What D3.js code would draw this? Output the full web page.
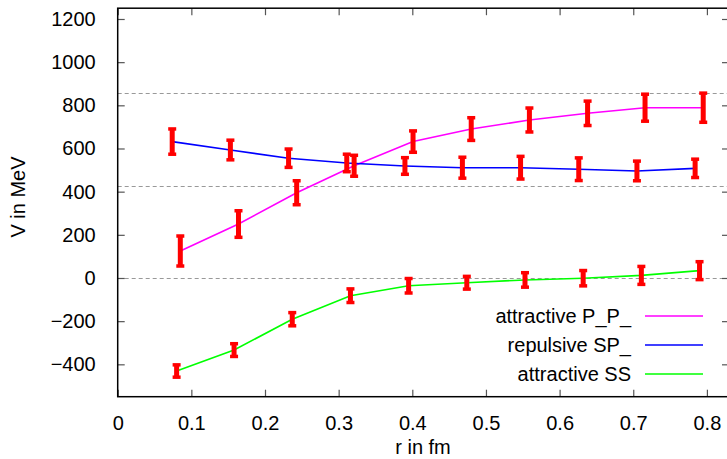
<!DOCTYPE html>
<html>
<head>
<meta charset="utf-8">
<script src="https://cdn.jsdelivr.net/npm/d3@7"></script>
<style>
  body { margin: 0; background: #fff; }
  text { font-family: "Liberation Sans", Arial, sans-serif; font-size: 20px; fill: #000; }
</style>
</head>
<body>
<svg id="svg" width="727" height="459"></svg>
<script>
// r in fm, V in MeV, error in MeV
const rPP = [0.085, 0.164, 0.243, 0.321, 0.401, 0.480, 0.559, 0.638, 0.716, 0.795]
const vPP = [125, 250, 395, 520, 632, 690, 732, 763, 789, 789]
const ePP = [73, 65, 59, 52, 53, 56, 59, 60, 66, 71]

const rSP = [0.074, 0.153, 0.232, 0.311, 0.390, 0.468, 0.547, 0.626, 0.705, 0.784]
const vSP = [632, 593, 555, 533, 519, 511, 511, 504, 496, 508]
const eSP = [62, 49, 46, 44, 42, 52, 56, 56, 49, 46]

const rSS = [0.080, 0.158, 0.237, 0.316, 0.395, 0.474, 0.553, 0.632, 0.711, 0.790]
const vSS = [-431, -334, -191, -82, -36, -22, -9, -1, 12, 34]
const eSS = [32, 33, 34, 35, 37, 33, 37, 39, 45, 45]

const refLines = [856, 428, 0]
const xTicks = [0, 0.1, 0.2, 0.3, 0.4, 0.5, 0.6, 0.7, 0.8]
const yTicks = [-400, -200, 0, 200, 400, 600, 800, 1000, 1200]

const series = [
    { name: 'attractive P_P_', color: '#ff00ff', r: rPP, v: vPP, e: ePP },
    { name: 'repulsive SP_', color: '#0000ff', r: rSP, v: vSP, e: eSP },
    { name: 'attractive SS', color: '#00ff00', r: rSS, v: vSS, e: eSS }
]

const plotL = 117.7, plotR = 729, plotT = 8.2, plotB = 396.7
const x = d3.scaleLinear().domain([0, 0.83]).range([plotL, plotR])
const y = d3.scaleLinear().domain([-550, 1250]).range([plotB, plotT])

const svg = d3.select('#svg')

// dashed reference lines
svg.selectAll('line.ref')
    .data(refLines)
    .enter()
    .append('line')
    .attr('x1', plotL)
    .attr('x2', plotR)
    .attr('y1', (d) => Math.round(y(d)) + 0.5)
    .attr('y2', (d) => Math.round(y(d)) + 0.5)
    .attr('stroke', '#999')
    .attr('stroke-width', 1)
    .attr('stroke-dasharray', '4,3')

// axes, ticks mirrored on the other side
const tickLen = -7
svg.append('g')
    .attr('transform', `translate(0,${plotB})`)
    .call(d3.axisBottom(x).tickValues(xTicks).tickSize(tickLen).tickPadding(19).tickFormat((d) => d === 0 ? '0' : d3.format('.1f')(d)))
svg.append('g')
    .attr('transform', `translate(0,${plotT})`)
    .call(d3.axisTop(x).tickValues(xTicks).tickSize(tickLen).tickFormat(''))
svg.append('g')
    .attr('transform', `translate(${plotL},0)`)
    .call(d3.axisLeft(y).tickValues(yTicks).tickSize(tickLen).tickPadding(22).tickFormat(d3.format('d')))
svg.append('g')
    .attr('transform', `translate(${plotR},0)`)
    .call(d3.axisRight(y).tickValues(yTicks).tickSize(tickLen).tickFormat(''))

svg.selectAll('.domain').remove()
svg.selectAll('.tick line').attr('stroke', '#555').attr('stroke-width', 1.2)
svg.selectAll('.tick text')
    .style('font-family', '"Liberation Sans", Arial, sans-serif')
    .style('font-size', '20px')
    .attr('fill', '#000')

svg.append('rect')
    .attr('x', plotL)
    .attr('y', plotT)
    .attr('width', plotR - plotL)
    .attr('height', plotB - plotT)
    .attr('fill', 'none')
    .attr('stroke', '#000')
    .attr('stroke-width', 1.5)

// lines
const line = d3.line().x((d) => x(d[0])).y((d) => y(d[1]))
series.forEach((s) => {
    svg.append('path')
        .datum(s.r.map((r, i) => [r, s.v[i]]))
        .attr('d', line)
        .attr('fill', 'none')
        .attr('stroke', s.color)
        .attr('stroke-width', 1.6)
})

// error bars
series.forEach((s) => {
    const pts = s.r.map((r, i) => ({ r: r, v: s.v[i], e: s.e[i] }))
    const g = svg.append('g').attr('fill', '#ff0000')
    g.selectAll('rect.bar')
        .data(pts)
        .enter()
        .append('rect')
        .attr('x', (d) => x(d.r) - 2.5)
        .attr('y', (d) => y(d.v + d.e))
        .attr('width', 5)
        .attr('height', (d) => y(d.v - d.e) - y(d.v + d.e))
    g.selectAll('rect.capHi')
        .data(pts)
        .enter()
        .append('rect')
        .attr('x', (d) => x(d.r) - 4)
        .attr('y', (d) => y(d.v + d.e) - 1)
        .attr('width', 8)
        .attr('height', 3.5)
    g.selectAll('rect.capLo')
        .data(pts)
        .enter()
        .append('rect')
        .attr('x', (d) => x(d.r) - 4)
        .attr('y', (d) => y(d.v - d.e) - 2.5)
        .attr('width', 8)
        .attr('height', 3.5)
})

// legend
const legY = [316, 345, 374]
series.forEach((s, i) => {
    svg.append('text')
        .attr('x', 631)
        .attr('y', legY[i] + 7)
        .attr('text-anchor', 'end')
        .text(s.name)
    svg.append('line')
        .attr('x1', 645)
        .attr('x2', 703)
        .attr('y1', legY[i])
        .attr('y2', legY[i])
        .attr('stroke', s.color)
        .attr('stroke-width', 1.6)
})

// axis titles
svg.append('text')
    .attr('x', 423)
    .attr('y', 454)
    .attr('text-anchor', 'middle')
    .text('r in fm')
svg.append('text')
    .attr('transform', 'translate(25,197) rotate(-90)')
    .attr('text-anchor', 'middle')
    .text('V in MeV')
</script>
</body>
</html>
